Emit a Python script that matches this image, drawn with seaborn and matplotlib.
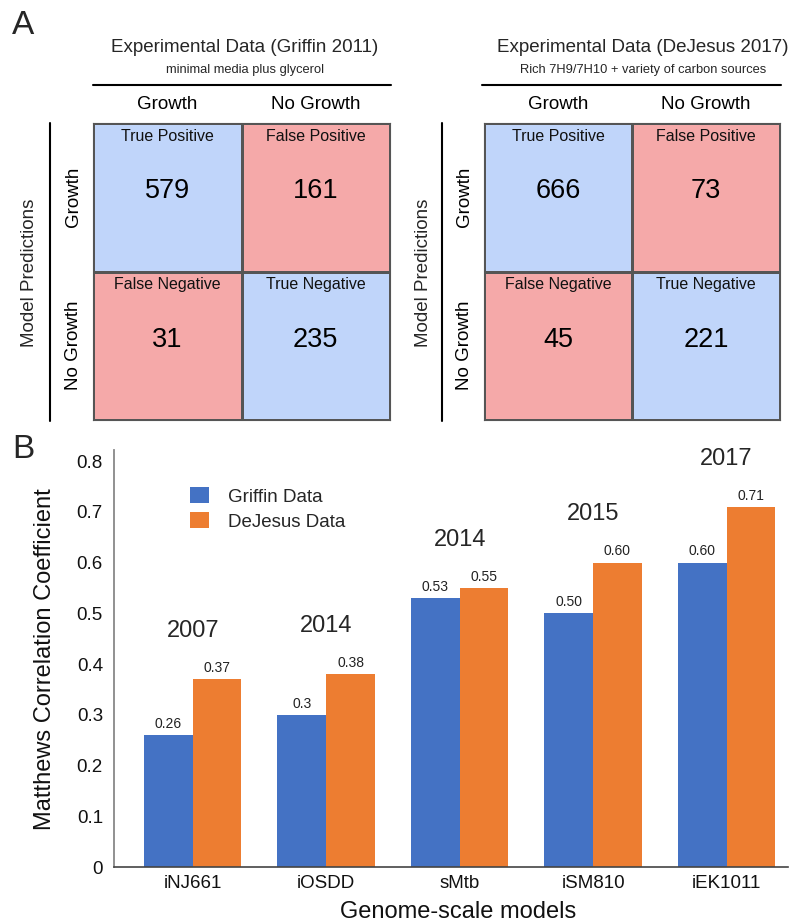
import numpy as np
import pandas as pd
import matplotlib
matplotlib.use("Agg")
import matplotlib.pyplot as plt
from matplotlib.colors import ListedColormap
from matplotlib.lines import Line2D
import seaborn as sns

sns.set_style("white")
plt.rcParams["font.family"] = ["Liberation Sans", "DejaVu Sans"]

# ---- Panel A: confusion matrices -------------------------------------------
pred_labels = ["Growth", "No Growth"]
exp_labels = ["Growth", "No Growth"]
cell_names = [["True Positive", "False Positive"],
              ["False Negative", "True Negative"]]
griffin_counts = [[579, 161], [31, 235]]
dejesus_counts = [[666, 73], [45, 221]]
griffin_title = "Experimental Data (Griffin 2011)"
griffin_sub = "minimal media plus glycerol"
dejesus_title = "Experimental Data (DeJesus 2017)"
dejesus_sub = "Rich 7H9/7H10 + variety of carbon sources"

# ---- Panel B: Matthews correlation coefficients ----------------------------
models = ["iNJ661", "iOSDD", "sMtb", "iSM810", "iEK1011"]
years = ["2007", "2014", "2014", "2015", "2017"]
griffin_mcc = [0.26, 0.30, 0.53, 0.50, 0.60]
dejesus_mcc = [0.37, 0.38, 0.55, 0.60, 0.71]
griffin_txt = ["0.26", "0.3", "0.53", "0.50", "0.60"]
dejesus_txt = ["0.37", "0.38", "0.55", "0.60", "0.71"]
series = ["Griffin Data", "DeJesus Data"]
yticks = [0, 0.1, 0.2, 0.3, 0.4, 0.5, 0.6, 0.7, 0.8]
ytick_txt = ["0", "0.1", "0.2", "0.3", "0.4", "0.5", "0.6", "0.7", "0.8"]

W, H = 798, 923
fig = plt.figure(figsize=(W / 100, H / 100), dpi=100)


def fx(px):
    return px / W


def fy(py):
    return 1 - py / H


CELL_BLUE = "#C0D5FA"
CELL_PINK = "#F5A9A9"
GRID = "#555555"
M_TOP, M_BOT = 123, 420


def draw_matrix(left, right, counts, title, sub, vline_x, pred_x, title_x,
                line_l, line_r):
    ax = fig.add_axes([fx(left), fy(M_BOT), (right - left) / W,
                       (M_BOT - M_TOP) / H])
    kind = np.array([[0, 1], [1, 0]])
    sns.heatmap(kind, ax=ax, cmap=ListedColormap([CELL_BLUE, CELL_PINK]),
                vmin=0, vmax=1, cbar=False,
                annot=np.array(counts), fmt="d",
                annot_kws=dict(size=19.5, color="black"),
                linewidths=0.8, linecolor=GRID,
                xticklabels=exp_labels, yticklabels=pred_labels)
    for t in ax.texts:
        x0, y0 = t.get_position()
        t.set_position((x0, y0 - 0.04))
    for i in range(2):
        for j in range(2):
            ax.text(j + 0.5, i + 0.09, cell_names[i][j], ha="center",
                    va="center", fontsize=11.5, color="#111111")
    ax.xaxis.tick_top()
    ax.tick_params(axis="x", length=0, labelsize=13.5, pad=7, colors="black")
    ax.tick_params(axis="y", length=0, labelsize=13.5, pad=8, colors="black")
    ax.set_yticklabels(pred_labels, rotation=90, va="center")
    for s in ax.spines.values():
        s.set_visible(True)
        s.set_color(GRID)
        s.set_linewidth(0.8)
    # headers and bracket lines
    fig.text(fx(title_x), fy(47), title, ha="center", va="center", fontsize=13.5)
    fig.text(fx(title_x), fy(70), sub, ha="center", va="center", fontsize=9.3)
    fig.add_artist(Line2D([fx(line_l), fx(line_r)], [fy(85), fy(85)],
                          transform=fig.transFigure, color="black", lw=1.5))
    fig.add_artist(Line2D([fx(vline_x), fx(vline_x)], [fy(M_TOP), fy(421)],
                          transform=fig.transFigure, color="black", lw=1.5))
    fig.text(fx(pred_x), fy(273), "Model Predictions", rotation=90,
             ha="center", va="center", fontsize=13.5)


draw_matrix(93, 390, griffin_counts, griffin_title, griffin_sub, 50, 30, 245,
            93, 391)
draw_matrix(484, 780, dejesus_counts, dejesus_title, dejesus_sub, 442, 423, 643,
            482, 781)

fig.text(fx(23), fy(25), "A", ha="center", va="center", fontsize=24)
fig.text(fx(23), fy(450), "B", ha="center", va="center", fontsize=24)

# ---- bar chart --------------------------------------------------------------
axB = fig.add_axes([fx(114), fy(867), (788 - 114) / W, (867 - 450) / H])
df = pd.DataFrame({
    "model": models * 2,
    "mcc": griffin_mcc + dejesus_mcc,
    "dataset": [series[0]] * len(models) + [series[1]] * len(models),
})
sns.barplot(data=df, x="model", y="mcc", hue="dataset", hue_order=series,
            palette=["#4472C4", "#ED7D31"], saturation=1, width=0.73,
            linewidth=0, ax=axB, errorbar=None)

for cont, labels in zip(axB.containers, [griffin_txt, dejesus_txt]):
    axB.bar_label(cont, labels=labels, padding=3, fontsize=10, color="#222222")

tops = np.maximum(griffin_mcc, dejesus_mcc)
for i, (yr, top) in enumerate(zip(years, tops)):
    axB.text(i, top + 0.095, yr, ha="center", va="center", fontsize=17)

axB.set_xlim(-0.59, 4.46)
axB.set_ylim(0, 0.822)
axB.set_yticks(yticks)
axB.set_yticklabels(ytick_txt)
axB.tick_params(axis="both", length=0, labelsize=13.5, colors="#111111")
axB.tick_params(axis="y", pad=8)
axB.tick_params(axis="x", pad=6)
for side in ("top", "right"):
    axB.spines[side].set_visible(False)
axB.spines["left"].set_color("#888888")
axB.spines["left"].set_linewidth(1.3)
axB.spines["bottom"].set_color("#444444")
axB.spines["bottom"].set_linewidth(1.2)

axB.set_ylabel("Matthews Correlation Coefficient", fontsize=17, color="#111111")
axB.yaxis.label.set_va("center")
axB.yaxis.set_label_coords((45 - 114) / (788 - 114), (867 - 659) / (867 - 450))
axB.set_xlabel("Genome-scale models", fontsize=17, color="#111111")
axB.xaxis.label.set_va("center")
axB.xaxis.set_label_coords((458 - 114) / (788 - 114), (867 - 912) / (867 - 450))

handles, labels = axB.get_legend_handles_labels()
axB.legend(handles, labels, loc="upper left",
           bbox_to_anchor=(fx(190), fy(487)), bbox_transform=fig.transFigure,
           frameon=False, fontsize=13.5, handlelength=1.0, handleheight=0.95,
           handletextpad=1.0, labelspacing=0.35, borderpad=0, borderaxespad=0)

fig.savefig("out.png", dpi=100)
